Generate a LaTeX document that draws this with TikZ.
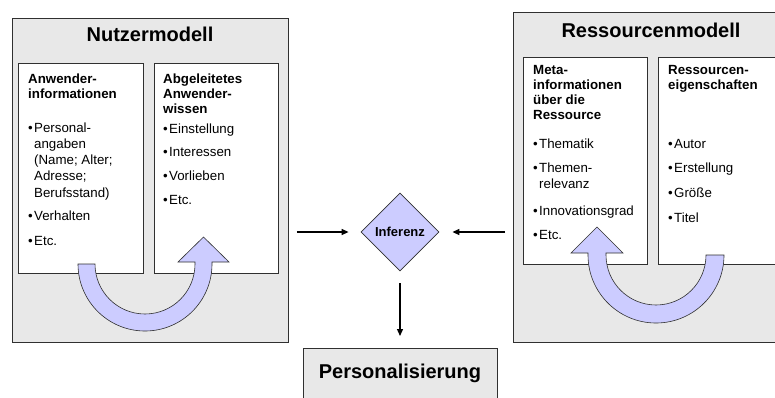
\documentclass[tikz,border=0pt]{standalone}
\usepackage{fontspec}
\setmainfont{Liberation Sans}
\usetikzlibrary{shapes.geometric,arrows.meta}
\definecolor{panel}{HTML}{E8E8E8}
\definecolor{lav}{HTML}{CCCCFF}
\definecolor{edge}{HTML}{303030}
\newcommand{\bul}{\makebox[6pt][l]{•}}
\newcommand{\ind}{\hspace*{6pt}}
% top-aligned block of lines, so that the node's base is the first line
\newcommand{\textlines}[1]{\parbox[t]{130pt}{\raggedright #1}}
\tikzset{
  panelbox/.style={rectangle, draw=edge, fill=panel, line width=0.9pt, inner sep=0, anchor=north west},
  innerbox/.style={rectangle, draw=edge, fill=white, line width=0.9pt, inner sep=0, anchor=north west},
  title/.style={inner sep=0, anchor=base, font=\bfseries\fontsize{20}{24}\selectfont},
  head/.style={inner sep=0, anchor=base west, font=\bfseries\fontsize{13.3}{15.3}\selectfont},
  txt/.style={inner sep=0, anchor=base west, font=\fontsize{13.3}{16.3}\selectfont},
  uarrow/.style={fill=lav, draw=edge, line width=0.6pt},
  flow/.style={-{Triangle[length=7pt,width=6pt]}, line width=1.3pt},
}
\begin{document}
\begin{tikzpicture}[x=1pt,y=-1pt]
\clip (0,0) rectangle (775,397);

% user model panel
\node[panelbox, minimum width=276, minimum height=324] (nm) at (12,18) {};
\node[title] (nmt) at (150,41) {Nutzermodell};
\node[innerbox, minimum width=125, minimum height=210] (ui) at (18,63) {};
\node[innerbox, minimum width=124, minimum height=210] (uw) at (154,63) {};

\node[head] (uih) at (28,83) {\textlines{Anwender-\\informationen}};
\node[txt] (ui1) at (28,132) {\textlines{\bul Personal-\\\ind angaben\\\ind (Name; Alter;\\\ind Adresse;\\\ind Berufsstand)}};
\node[txt] (ui2) at (28,220) {\bul Verhalten};
\node[txt] (ui3) at (28,245) {\bul Etc.};

\node[head] (uwh) at (163,83) {\textlines{Abgeleitetes\\Anwender-\\wissen}};
\node[txt] (uw1) at (163,133) {\bul Einstellung};
\node[txt] (uw2) at (163,156) {\bul Interessen};
\node[txt] (uw3) at (163,180) {\bul Vorlieben};
\node[txt] (uw4) at (163,204) {\bul Etc.};

% resource model panel
\node[panelbox, minimum width=276, minimum height=330] (rm) at (513,12) {};
\node[title] (rmt) at (651,37) {Ressourcenmodell};
\node[innerbox, minimum width=124, minimum height=207] (ri) at (523,57) {};
\node[innerbox, minimum width=124, minimum height=207] (re) at (658,57) {};

\node[head] (rih) at (533,74) {\textlines{Meta-\\informationen\\über die\\Ressource}};
\node[txt] (ri1) at (533,148) {\bul Thematik};
\node[txt] (ri2) at (533,172) {\textlines{\bul Themen-\\\ind relevanz}};
\node[txt] (ri3) at (533,215) {\bul Innovationsgrad};
\node[txt] (ri4) at (533,239) {\bul Etc.};

\node[head] (reh) at (668,74) {\textlines{Ressourcen-\\eigenschaften}};
\node[txt] (re1) at (668,148) {\bul Autor};
\node[txt] (re2) at (668,172) {\bul Erstellung};
\node[txt] (re3) at (668,197) {\bul Größe};
\node[txt] (re4) at (668,222) {\bul Titel};

% curved arrows between the inner boxes (angle 90 points down here)
\path[uarrow] (78,264) arc[start angle=180, end angle=0, radius=67]
  -- (212,262) -- (229,262) -- (203.5,237) -- (178,262) -- (195,262) -- (195,264)
  arc[start angle=0, end angle=180, radius=50] -- cycle;
\path[uarrow] (724,255) arc[start angle=0, end angle=180, radius=68]
  -- (588,253) -- (571,253) -- (597,227) -- (623,253) -- (606,253) -- (606,255)
  arc[start angle=180, end angle=0, radius=50] -- cycle;

% inference and result
\node[diamond, draw=edge, fill=lav, line width=0.8pt, minimum width=78, minimum height=78, inner sep=0,
      font=\bfseries\fontsize{13}{15}\selectfont] (inf) at (400,232) {Inferenz};
\node[rectangle, draw=edge, fill=panel, line width=0.9pt, minimum width=194, minimum height=50, inner sep=0,
      anchor=north, font=\bfseries\fontsize{20}{24}\selectfont] (pers) at (400,348) {Personalisierung};

\draw[flow, shorten <=8pt, shorten >=12pt] (nm.east |- inf.west) -- (inf.west);
\draw[flow, shorten <=8pt, shorten >=13pt] (rm.west |- inf.east) -- (inf.east);
\draw[flow, shorten <=12pt, shorten >=12pt] (inf.south) -- (pers.north);
\end{tikzpicture}
\end{document}
